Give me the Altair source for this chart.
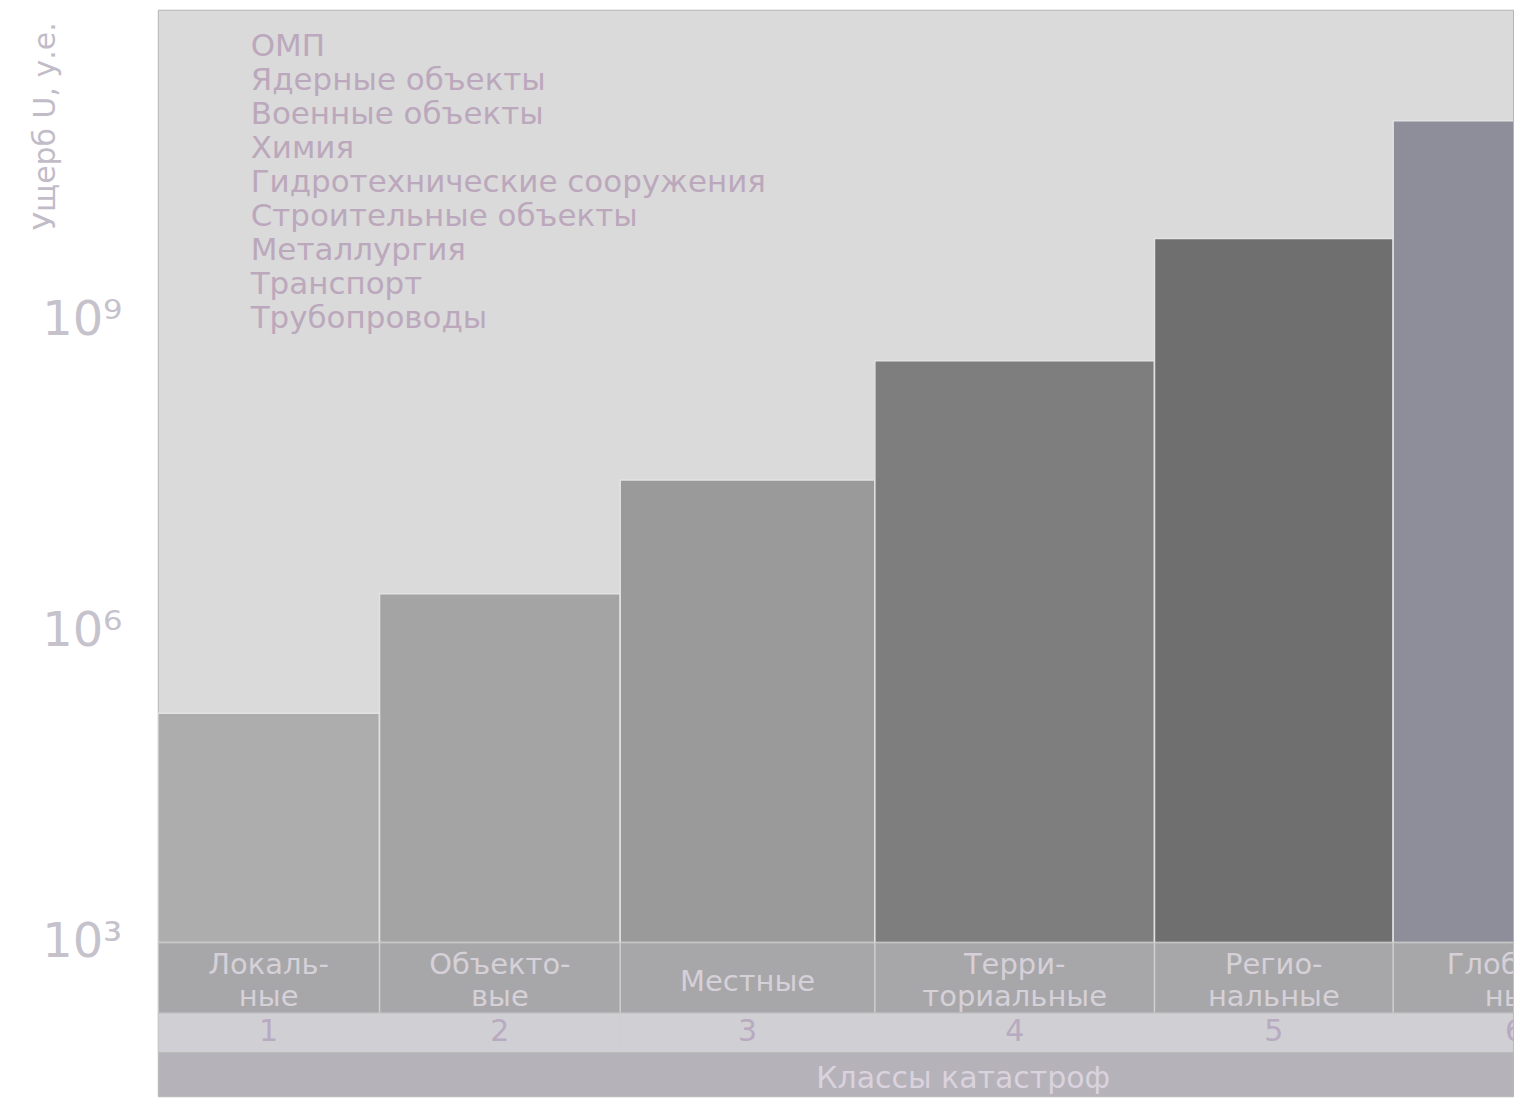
import json
import altair as alt
import pandas as pd

# ---------------- data ----------------
class_nums = ["1", "2", "3", "4", "5", "6"]
class_names = ["Локаль-\nные", "Объекто-\nвые", "Местные", "Терри-\nториальные",
               "Регио-\nнальные", "Глобаль-\nные"]
class_widths = [222, 241, 255, 280, 239, 243]          # relative width of each class
damage = [1.63e5, 2.32e6, 2.9e7, 4.1e8, 6.2e9, 8.5e10]  # damage U, c.u.
industries = ["ОМП", "Ядерные объекты", "Военные объекты", "Химия",
              "Гидротехнические сооружения", "Строительные объекты",
              "Металлургия", "Транспорт", "Трубопроводы"]
y_ticks = [1e3, 1e6, 1e9]
y_tick_labels = ["10³", "10⁶", "10⁹"]
y_title = "Ущерб U, у.е."
x_title = "Классы катастроф"

# ---------------- styles ----------------
bar_colors = ["#adadad", "#a4a4a4", "#9a9a9a", "#7e7e7e", "#6f6f6f", "#8e8e9a"]
FONT = "DejaVu Sans"
W = 1357

starts, ends = [], []
acc = 0
for w in class_widths:
    starts.append(acc)
    acc += w
    ends.append(acc)

df = pd.DataFrame({
    "num": class_nums,
    "name": class_names,
    "start": starts,
    "end": ends,
    "center": [(s + e) / 2 for s, e in zip(starts, ends)],
    "damage": damage,
})

xs = alt.Scale(domain=[0, W], nice=False, zero=False)
label_map = json.dumps({str(int(v)): t for v, t in zip(y_ticks, y_tick_labels)}, ensure_ascii=False)

bars = alt.Chart(df).mark_rect(clip=True, stroke="#e2e2e2", strokeWidth=1.5).encode(
    x=alt.X("start:Q", scale=xs, axis=None),
    x2="end:Q",
    y=alt.Y("damage:Q",
            scale=alt.Scale(type="log", domain=[1e3, 1e12], nice=False),
            axis=alt.Axis(values=y_ticks, labelExpr=f"({label_map})[datum.value]",
                          domain=False, ticks=False, grid=False,
                          labelFont=FONT, labelFontSize=48, labelColor="#c6c2cc",
                          labelPadding=36, minExtent=149, maxExtent=149,
                          title=y_title, titleFont=FONT, titleFontSize=30,
                          titleFontWeight="normal", titleColor="#c2bcc8",
                          titleAngle=-90, titleX=-112, titleY=12,
                          titleAlign="right", titleBaseline="middle")),
    y2=alt.datum(1e3),
    fill=alt.Fill("num:N", scale=alt.Scale(domain=class_nums, range=bar_colors), legend=None),
)

legend_layer = alt.Chart(pd.DataFrame({"industry": industries})).mark_point(opacity=0).encode(
    color=alt.Color("industry:N", sort=industries,
                    scale=alt.Scale(domain=industries, range=["#bba8bb"] * len(industries)),
                    legend=alt.Legend(title=None, orient="none", legendX=62, legendY=22,
                                      labelFont=FONT, labelFontSize=31, labelColor="#bca8bc",
                                      labelLimit=2000, labelOffset=0, symbolSize=0,
                                      symbolOpacity=0, symbolStrokeWidth=0,
                                      rowPadding=2, padding=0)),
)

top = alt.layer(bars, legend_layer).properties(
    width=W, height=934,
    view=alt.ViewBackground(fill="#dadada", stroke="#b4b4b4", strokeWidth=1),
)

sep_rules = alt.Chart(df).mark_rule(clip=True, color="#cfcfcf", strokeWidth=1.5).encode(
    x=alt.X("start:Q", scale=xs, axis=None)
)

two_line = alt.Chart(df).transform_filter(
    "indexof(datum.name, '\\n') >= 0"
).mark_text(lineBreak="\n", font=FONT, fontSize=29, lineHeight=32,
            color="#d6d0d8", clip=True, dy=-12).encode(
    x=alt.X("center:Q", scale=xs, axis=None), text="name:N")

one_line = alt.Chart(df).transform_filter(
    "indexof(datum.name, '\\n') < 0"
).mark_text(font=FONT, fontSize=29, color="#d6d0d8", clip=True, dy=5).encode(
    x=alt.X("center:Q", scale=xs, axis=None), text="name:N")

names_row = alt.layer(sep_rules, two_line, one_line).properties(
    width=W, height=70,
    view=alt.ViewBackground(fill="#a7a7a9", stroke="#c0c0c0", strokeWidth=1))

nums_row = alt.layer(
    sep_rules,
    alt.Chart(df).mark_text(font=FONT, fontSize=30, color="#b8aac0", clip=True).encode(
        x=alt.X("center:Q", scale=xs, axis=None), text="num:N"),
).properties(width=W, height=40,
             view=alt.ViewBackground(fill="#d0cfd4", stroke="#b8b8b8", strokeWidth=1))

title_row = alt.Chart(df).mark_point(opacity=0, clip=True).encode(
    x=alt.X("center:Q", scale=xs,
            axis=alt.Axis(orient="top", labels=False, ticks=False, domain=False, grid=False,
                          title=x_title, titleFont=FONT, titleFontSize=30,
                          titleFontWeight="normal", titleColor="#dad2de",
                          titleX=806, titleY=26, titleAlign="center",
                          titleBaseline="middle")),
).properties(width=W, height=44,
             view=alt.ViewBackground(fill="#b5b3b9", stroke="#b8b8b8", strokeWidth=1))

chart = alt.vconcat(top, names_row, nums_row, title_row, spacing=0, bounds="flush").properties(
    padding=0, background="white"
).resolve_scale(x="shared")

chart.save("out.html", embed_options={"renderer": "svg", "actions": False})
